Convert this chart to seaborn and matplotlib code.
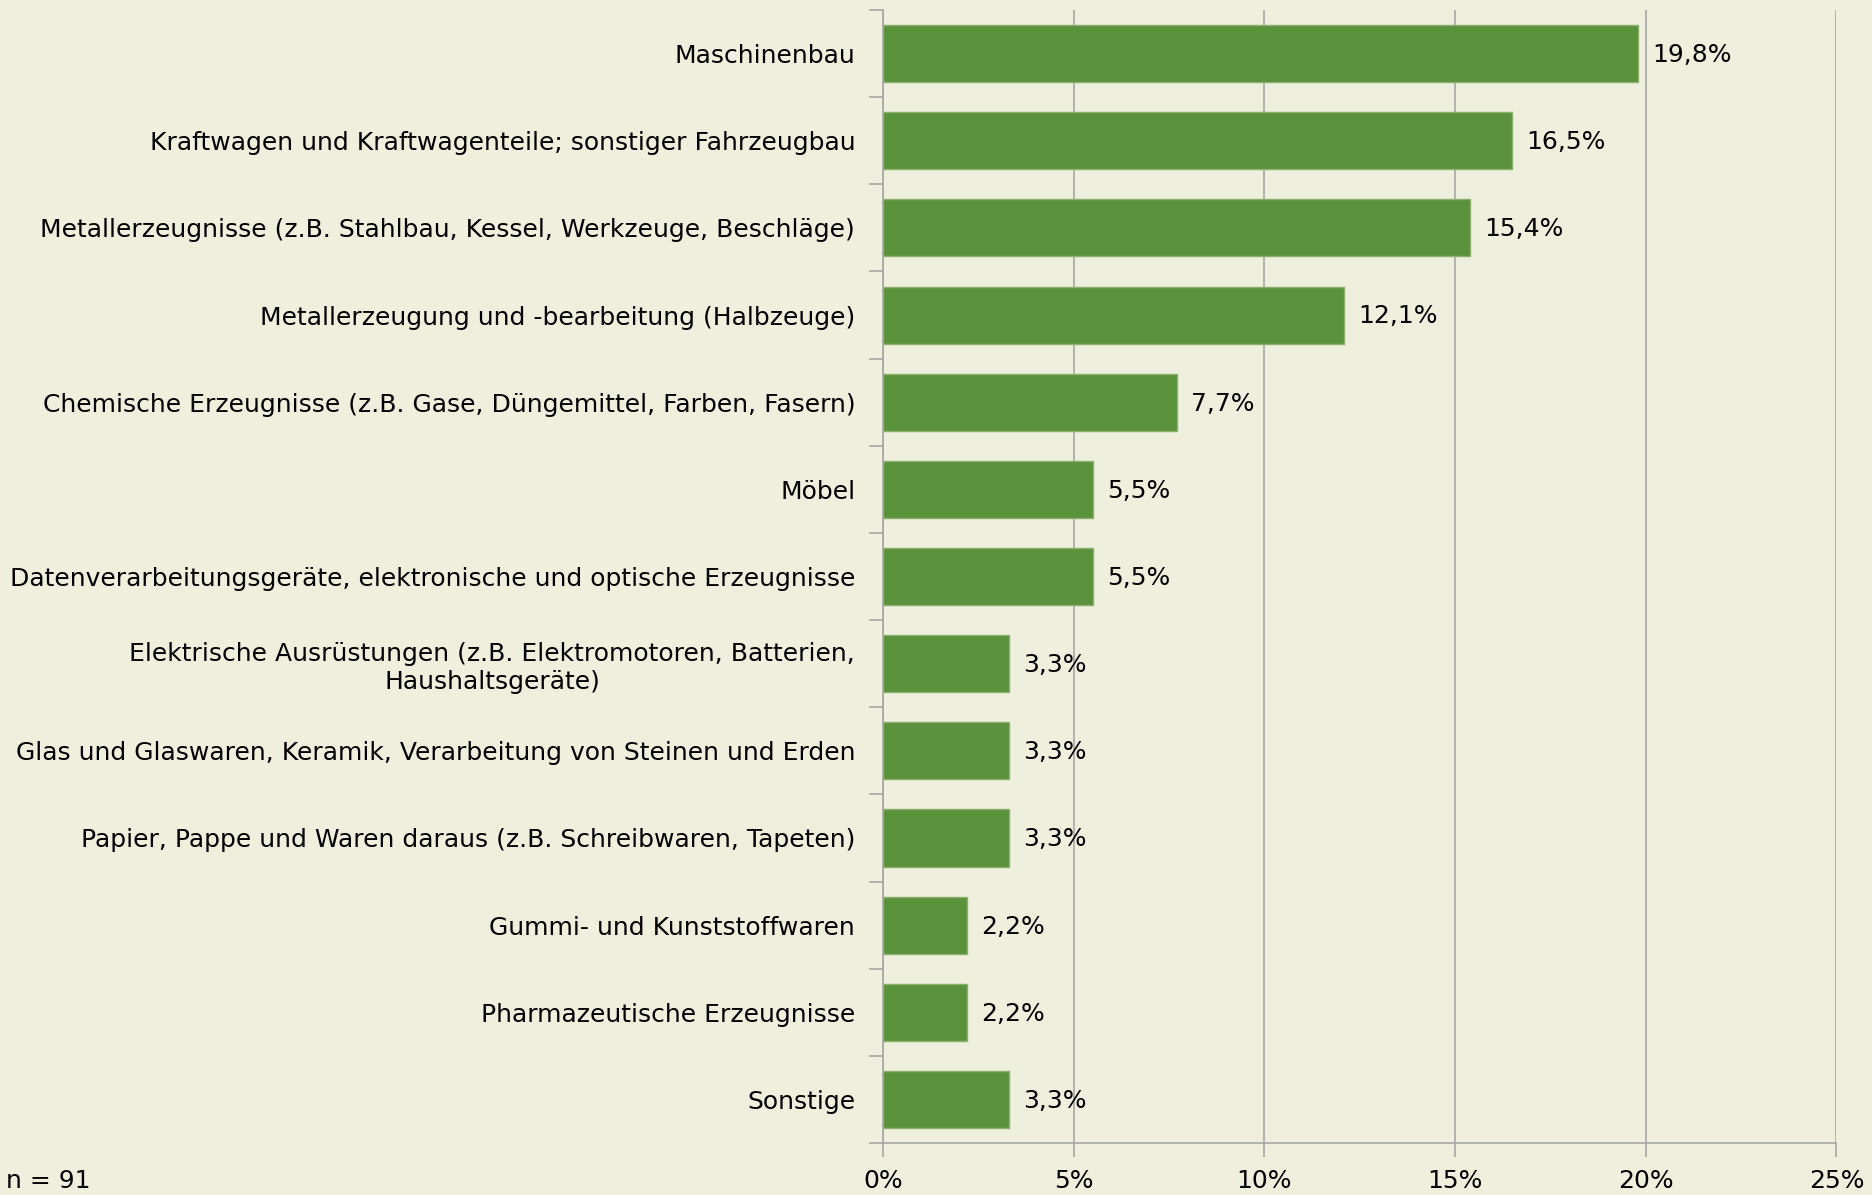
import seaborn as sns
import numpy as np
import matplotlib.pyplot as plt
import pandas as pd

categories = [
    "Maschinenbau",
    "Kraftwagen und Kraftwagenteile; sonstiger Fahrzeugbau",
    "Metallerzeugnisse (z.B. Stahlbau, Kessel, Werkzeuge, Beschläge)",
    "Metallerzeugung und -bearbeitung (Halbzeuge)",
    "Chemische Erzeugnisse (z.B. Gase, Düngemittel, Farben, Fasern)",
    "Möbel",
    "Datenverarbeitungsgeräte, elektronische und optische Erzeugnisse",
    "Elektrische Ausrüstungen (z.B. Elektromotoren, Batterien,\nHaushaltsgeräte)",
    "Glas und Glaswaren, Keramik, Verarbeitung von Steinen und Erden",
    "Papier, Pappe und Waren daraus (z.B. Schreibwaren, Tapeten)",
    "Gummi- und Kunststoffwaren",
    "Pharmazeutische Erzeugnisse",
    "Sonstige",
]
anteil = [19.8, 16.5, 15.4, 12.1, 7.7, 5.5, 5.5, 3.3, 3.3, 3.3, 2.2, 2.2, 3.3]
x_ticks = [0, 5, 10, 15, 20, 25]
n_text = "n = 91"

bg = "#EEEFDC"
bar_col = "#5B923C"
grid_col = "#A6A6A6"

df = pd.DataFrame({"kategorie": categories, "anteil": anteil})

sns.set_style("white")
plt.rcParams["font.family"] = ["DejaVu Sans"]
plt.rcParams["font.size"] = 18
plt.rcParams["text.color"] = "black"
plt.rcParams["xtick.color"] = "black"
plt.rcParams["ytick.color"] = "black"

fig = plt.figure(figsize=(18.72, 11.95), dpi=100, facecolor=bg)
ax = fig.add_axes([0.4717, 0.0435, 0.981 - 0.4717, 0.9916 - 0.0435])
ax.set_facecolor(bg)

sns.barplot(data=df, x="anteil", y="kategorie", orient="h", color=bar_col,
            width=0.655, edgecolor="#8DB06F", linewidth=1, saturation=1, ax=ax,
            zorder=3)

ax.set_xlim(0, 25)
ax.set_ylim(len(categories) - 0.5, -0.5)
ax.set_xticks(x_ticks)
ax.set_xticklabels([f"{t}%" for t in x_ticks])
ax.xaxis.grid(True, color=grid_col, linewidth=1.2, zorder=0)
ax.set_axisbelow(True)
ax.set_xlabel("")
ax.set_ylabel("")

# Ticks an den Kategoriegrenzen (minor), Beschriftung auf major
ax.set_yticks(np.arange(-0.5, len(categories), 1), minor=True)
ax.tick_params(axis="y", which="major", length=0, pad=20, labelsize=18,
               labelcolor="black")
ax.tick_params(axis="y", which="minor", length=10, color=grid_col, width=1.2, left=True)
ax.tick_params(axis="x", which="major", length=10, color=grid_col, width=1.2,
               bottom=True, pad=9, labelsize=18, labelcolor="black")
for lbl in ax.get_yticklabels():
    lbl.set_multialignment("center")

for s in ["top", "right"]:
    ax.spines[s].set_visible(False)
for s in ["left", "bottom"]:
    ax.spines[s].set_color(grid_col)
    ax.spines[s].set_linewidth(1.2)

for i, v in enumerate(anteil):
    ax.annotate(f"{v:.1f}%".replace(".", ","), xy=(v, i), xytext=(10, -1),
                textcoords="offset points", va="center", ha="left",
                fontsize=18, color="black", zorder=4)

fig.text(0.003, 0.002, n_text, fontsize=18, ha="left", va="bottom", color="black")

fig.savefig("out.png", dpi=100, facecolor=bg)
plt.close()
